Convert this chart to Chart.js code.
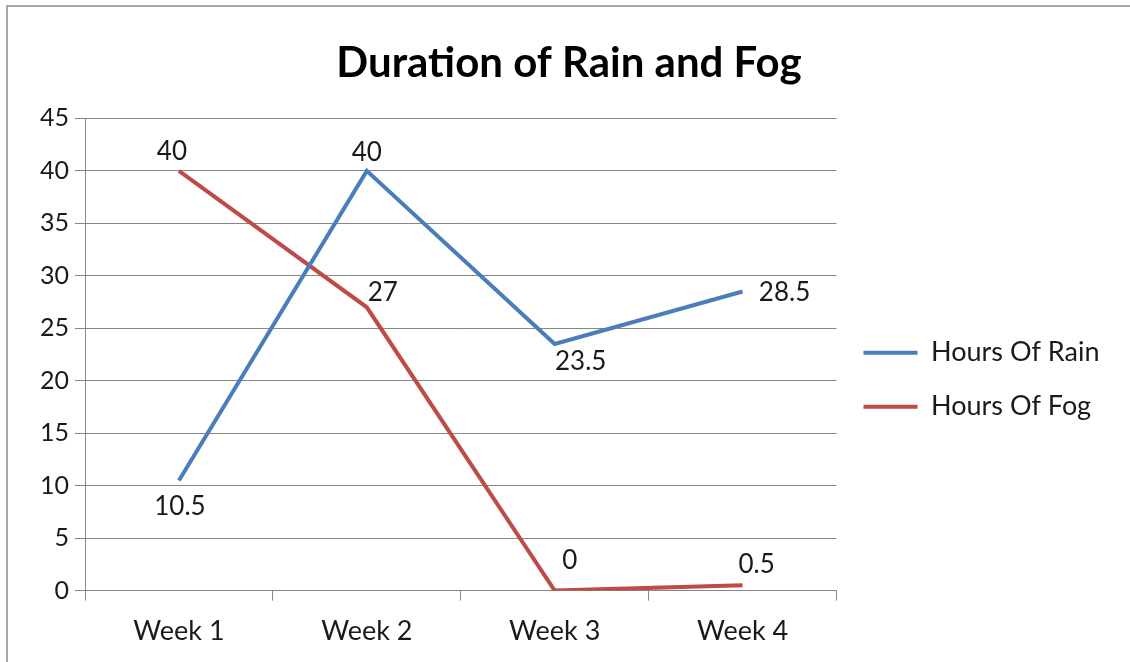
<!DOCTYPE html>
<html>
<head>
<meta charset="utf-8">
<script src="https://cdn.jsdelivr.net/npm/chart.js@4.4.1/dist/chart.umd.min.js"></script>
<style>
  body { margin: 0; background: #fff; }
  #wrap { position: relative; width: 1130px; height: 662px; }
  #frame { position: absolute; left: 6px; top: 5px; right: 0; bottom: 0;
           border-top: 2px solid #a6a6a6; border-left: 2px solid #a6a6a6; }
  #chart { position: absolute; left: 0; top: 0; }
</style>
</head>
<body>
<div id="wrap">
  <div id="frame"></div>
  <canvas id="chart" width="1130" height="662"></canvas>
</div>
<script>
// Dados
const semanas = ['Week 1', 'Week 2', 'Week 3', 'Week 4'];
const horasChuva = [10.5, 40, 23.5, 28.5];
const horasNevoeiro = [40, 27, 0, 0.5];
const ticksY = [0, 5, 10, 15, 20, 25, 30, 35, 40, 45];

// Deslocamento dos rótulos em relação ao ponto (px)
const rotulosChuva = [[1, 26], [0, -18], [26, 18], [42, 1]];
const rotulosNevoeiro = [[-7, -19], [16, -15], [15, -30], [14, -21]];

const fonte = 'Lato, "Open Sans", sans-serif';

// Plugin simples para escrever os valores ao lado dos pontos
const rotulosPlugin = {
    id: 'rotulos',
    afterDatasetsDraw(chart) {
        const ctx = chart.ctx;
        ctx.save();
        ctx.font = '26px ' + fonte;
        ctx.fillStyle = '#1a1a1a';
        ctx.textAlign = 'center';
        ctx.textBaseline = 'middle';
        chart.data.datasets.forEach(function(ds, i) {
            const meta = chart.getDatasetMeta(i);
            const offs = ds.rotulos;
            meta.data.forEach(function(pt, j) {
                ctx.fillText(String(ds.data[j]), pt.x + offs[j][0], pt.y + offs[j][1]);
            });
        });
        ctx.restore();
    }
};

new Chart(document.getElementById('chart').getContext('2d'), {
    type: 'line',
    data: {
        labels: semanas,
        datasets: [{
            label: 'Hours Of Rain',
            data: horasChuva,
            borderColor: '#4a7ebb',
            backgroundColor: '#4a7ebb',
            borderWidth: 4,
            pointRadius: 0,
            tension: 0,
            rotulos: rotulosChuva
        }, {
            label: 'Hours Of Fog',
            data: horasNevoeiro,
            borderColor: '#be4b48',
            backgroundColor: '#be4b48',
            borderWidth: 4,
            pointRadius: 0,
            tension: 0,
            rotulos: rotulosNevoeiro
        }]
    },
    options: {
        responsive: false,
        animation: false,
        layout: { padding: { left: 34, right: 26, top: 38, bottom: 1 } },
        plugins: {
            title: {
                display: true,
                text: 'Duration of Rain and Fog',
                color: '#000',
                font: { family: fonte, size: 42, weight: 'bold' },
                padding: { top: 0, bottom: 30 }
            },
            legend: {
                position: 'right',
                title: { display: true, text: ' ', font: { size: 2 }, padding: { top: 58, bottom: 0 } },
                labels: {
                    usePointStyle: true,
                    pointStyle: 'line',
                    pointStyleWidth: 54,
                    color: '#1a1a1a',
                    padding: 27,
                    font: { family: fonte, size: 27 }
                }
            },
            tooltip: { enabled: false }
        },
        scales: {
            x: {
                offset: true,
                border: { color: '#868686', width: 1 },
                grid: { offset: true, drawOnChartArea: false, drawTicks: true, tickLength: 10, color: '#868686' },
                ticks: { color: '#1a1a1a', font: { family: fonte, size: 27 }, padding: 14 }
            },
            y: {
                min: 0,
                max: 45,
                afterBuildTicks(axis) { axis.ticks = ticksY.map(function(v) { return { value: v }; }); },
                border: { color: '#868686', width: 1 },
                grid: { color: '#868686', tickLength: 10 },
                ticks: { color: '#1a1a1a', font: { family: fonte, size: 25 }, padding: 6 }
            }
        }
    },
    plugins: [rotulosPlugin]
});
</script>
</body>
</html>
